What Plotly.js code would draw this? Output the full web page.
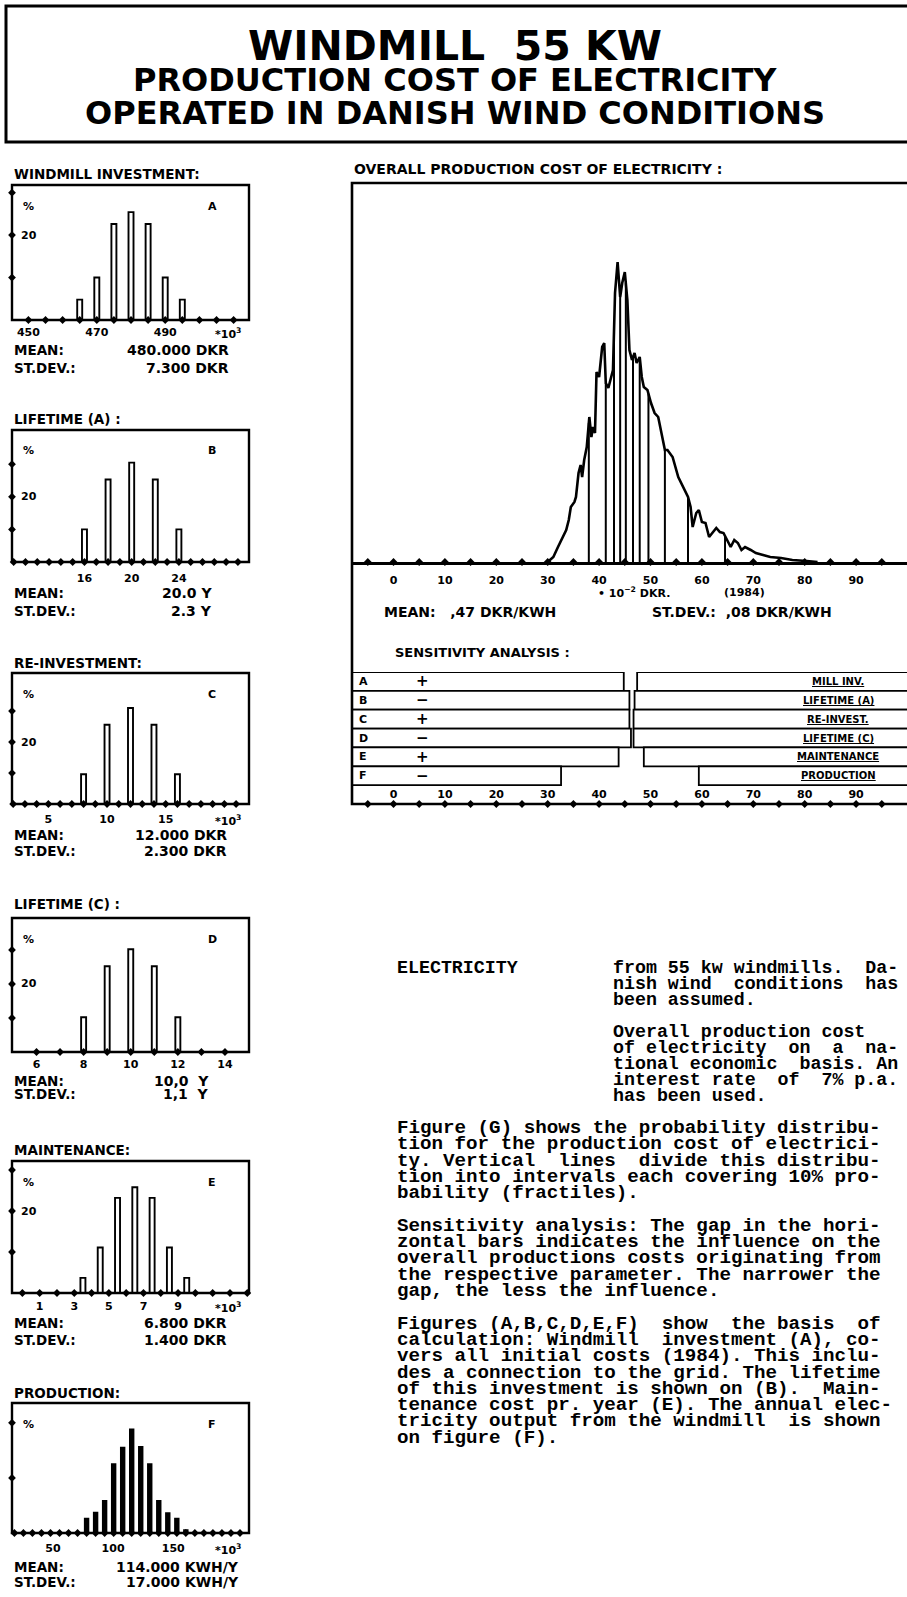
<!DOCTYPE html>
<html><head><meta charset="utf-8">
<script src="https://cdn.plot.ly/plotly-3.0.1.min.js"></script>
<style>html,body{margin:0;padding:0;background:#fff}#chart{width:907px;height:1597px}</style>
</head><body><div id="chart"></div>
<script>
// ================= DATA =================
const titleLines = ["WINDMILL  55 KW", "PRODUCTION COST OF ELECTRICITY", "OPERATED IN DANISH WIND CONDITIONS"];

const panelTitles = ["WINDMILL INVESTMENT:", "LIFETIME (A) :", "RE-INVESTMENT:", "LIFETIME (C) :", "MAINTENANCE:", "PRODUCTION:"];
const panelLetters = ["A", "B", "C", "D", "E", "F"];

const aX = [465, 470, 475, 480, 485, 490, 495];
const aY = [4.8, 10, 22.6, 25.4, 22.6, 10, 4.8];
const bX = [16, 18, 20, 22, 24];
const bY = [10, 25.3, 30.5, 25.3, 10];
const cX = [8, 10, 12, 14, 16];
const cY = [9.6, 25.6, 31, 25.6, 9.6];
const dX = [8, 9, 10, 11, 12];
const dY = [10.2, 25.2, 30.2, 25.2, 10.2];
const eX = [3.5, 4.5, 5.5, 6.5, 7.5, 8.5, 9.5];
const eY = [3.7, 11.1, 23.2, 25.8, 23.2, 11.1, 3.7];
const fX = [78, 85.5, 93, 100.5, 108, 115.5, 123, 130.5, 138, 145.5, 153, 160.5];
const fY = [2.6, 3.7, 5.8, 12.5, 15.5, 18.8, 15.6, 12.5, 5.8, 3.6, 2.6, 0.5];

const aTicks = [450, 470, 490];
const bTicks = [16, 20, 24];
const cTicks = [5, 10, 15];
const dTicks = [6, 8, 10, 12, 14];
const eTicks = [1, 3, 5, 7, 9];
const fTicks = [50, 100, 150];
const yLabelTick = 20;

const meanTexts = ["480.000 DKR", "20.0 Y", "12.000 DKR", "10,0  Y", "6.800 DKR", "114.000 KWH/Y"];
const sdTexts = ["7.300 DKR", "2.3 Y", "2.300 DKR", "1,1  Y", "1.400 DKR", "17.000 KWH/Y"];

// overall production cost distribution (x in 1e-2 DKR/kWh, relative height)
const histX = [30.0, 31.1, 32.0, 32.9, 33.6, 34.1, 34.5, 35.2, 35.5, 36.0, 36.4, 36.7, 37.1, 37.6, 38.1, 38.5, 38.8, 39.2, 39.5, 40.0, 40.6, 41.0, 41.3, 41.8, 42.2, 42.7, 43.1, 43.6, 44.1, 44.5, 45.0, 45.5, 45.9, 46.4, 46.9, 47.3, 47.9, 48.3, 48.7, 49.4, 50.1, 50.8, 51.5, 52.2, 52.8, 53.3, 54.3, 55.4, 56.4, 57.3, 57.8, 58.2, 58.9, 59.4, 60.0, 60.7, 61.4, 62.1, 62.8, 63.5, 64.2, 64.9, 65.6, 66.3, 67.0, 67.7, 68.4, 69.5, 70.5, 71.9, 73.3, 75.4, 77.6, 80.4, 82.5];
const histY = [0, 0.5, 1.5, 2.5, 3.2, 4.2, 5.5, 6.0, 6.5, 8.9, 9.7, 8.5, 10.2, 11.5, 14.5, 12.5, 13.5, 12.9, 19.0, 18.5, 21.5, 21.9, 17.9, 17.4, 18.2, 19.2, 26.9, 30.0, 26.5, 27.9, 29.0, 26.2, 21.2, 20.2, 20.9, 19.9, 20.5, 18.5, 17.5, 17.2, 15.9, 14.9, 14.5, 12.5, 11.2, 11.2, 10.5, 8.5, 7.5, 6.5, 5.5, 3.5, 4.9, 5.2, 4.0, 3.9, 2.5, 2.9, 3.4, 3.0, 2.9, 2.2, 1.5, 2.2, 1.9, 1.2, 1.5, 1.2, 0.9, 0.7, 0.5, 0.4, 0.2, 0.1, 0];
const fractiles = [38.0, 41.3, 42.9, 44.1, 45.2, 46.6, 47.9, 49.6, 52.8, 57.3, 64.5];
const histTicks = [0, 10, 20, 30, 40, 50, 60, 70, 80, 90];

const sensLetters = ["A", "B", "C", "D", "E", "F"];
const sensSigns = ["+", "\u2212", "+", "\u2212", "+", "\u2212"];
const sensNames = ["MILL INV.", "LIFETIME (A)", "RE-INVEST.", "LIFETIME (C)", "MAINTENANCE", "PRODUCTION"];
const sensLow = [44.8, 45.9, 45.9, 46.2, 43.8, 32.6];
const sensHigh = [47.4, 46.9, 46.7, 46.7, 48.7, 59.4];

const textRight1 = ["from 55 kw windmills.  Da-", "nish wind  conditions  has", "been assumed."];
const textRight2 = ["Overall production cost", "of electricity  on  a  na-", "tional economic  basis. An", "interest rate  of  7% p.a.", "has been used."];
const textLower = [
  "Figure (G) shows the probability distribu-",
  "tion for the production cost of electrici-",
  "ty. Vertical  lines  divide this distribu-",
  "tion into intervals each covering 10% pro-",
  "bability (fractiles).",
  "",
  "Sensitivity analysis: The gap in the hori-",
  "zontal bars indicates the influence on the",
  "overall productions costs originating from",
  "the respective parameter. The narrower the",
  "gap, the less the influence.",
  "",
  "Figures (A,B,C,D,E,F)  show  the basis  of",
  "calculation: Windmill  investment (A), co-",
  "vers all initial costs (1984). This inclu-",
  "des a connection to the grid. The lifetime",
  "of this investment is shown on (B).  Main-",
  "tenance cost pr. year (E). The annual elec-",
  "tricity output from the windmill  is shown",
  "on figure (F)."
];

// ================= LAYOUT HELPERS =================
const W = 907, H = 1597;
const px = v => v / W;
const py = v => 1 - v / H;
const SANS = "DejaVu Sans";
const MONO = "Liberation Mono";
const nb = s => s.replace(/ /g, "\u00A0");

function ann(text, x, y, o) {
  o = o || {};
  return {
    text: text, x: o.xref ? x : px(x), y: o.yref ? y : py(y),
    xref: o.xref || 'paper', yref: o.yref || 'paper', showarrow: false,
    xanchor: o.xa || 'left', yanchor: 'middle', borderpad: 0,
    font: {family: o.family || SANS, size: o.size || 13, color: '#000', weight: o.weight || 'bold'}
  };
}

const series = [[aX, aY, aTicks], [bX, bY, bTicks], [cX, cY, cTicks], [dX, dY, dTicks], [eX, eY, eTicks], [fX, fY, fTicks]];

const geom = [
  {top: 185, bot: 320, xr: [445.2, 514.5], ymax: 31.8, dots: [450, 5, 510], ydots: [10, 20, 30], ylab: true, labelY: 174, tickY: 333, meanY: 350, sdY: 368, valR: 230, barPx: 5, fill: '#fff', x10: true},
  {top: 430, bot: 562, xr: [9.86, 29.94], ymax: 40.5, dots: [10, 1, 29], ydots: [10, 20, 30], ylab: true, labelY: 419, tickY: 579, meanY: 593, sdY: 611, valR: 213, barPx: 5, fill: '#fff', x10: false},
  {top: 673, bot: 804, xr: [1.9, 22.1], ymax: 42.3, dots: [2, 1, 21], ydots: [10, 20, 30], ylab: true, labelY: 663, tickY: 820, meanY: 835, sdY: 851, valR: 228, barPx: 5, fill: '#fff', x10: true},
  {top: 918, bot: 1052, xr: [4.96, 15.02], ymax: 39.4, dots: [6, 1, 14], ydots: [10, 20, 30], ylab: true, labelY: 904, tickY: 1065, meanY: 1081, sdY: 1094, valR: 210, barPx: 5, fill: '#fff', x10: false},
  {top: 1161, bot: 1293, xr: [-0.6, 13.1], ymax: 32.2, dots: [0, 1, 13], ydots: [10, 20, 30], ylab: true, labelY: 1150, tickY: 1307, meanY: 1323, sdY: 1340, valR: 228, barPx: 5, fill: '#fff', x10: true},
  {top: 1403, bot: 1533, xr: [16, 213], ymax: 23.6, dots: [18, 7.5, 205.5], ydots: [10, 20], ylab: false, labelY: 1393, tickY: 1549, meanY: 1567, sdY: 1582, valR: 240, barPx: 3.5, fill: '#000', x10: true}
];
const PL = 12, PR = 249;

const traces = [];
const layout = {
  width: W, height: H, margin: {l: 0, r: 0, t: 0, b: 0}, autosize: false,
  paper_bgcolor: '#fff', plot_bgcolor: 'rgba(0,0,0,0)', showlegend: false,
  shapes: [], annotations: []
};

// title box
layout.shapes.push({type: 'rect', xref: 'paper', yref: 'paper', x0: px(6), x1: px(930), y0: py(6), y1: py(142), line: {color: '#000', width: 3}});
const titleY = [46, 80, 113];
const titleSize = [41, 32, 32];
titleLines.forEach((t, i) => layout.annotations.push(ann(nb(t), 455, titleY[i], {xa: 'center', size: titleSize[i]})));

// ---------- left panels ----------
geom.forEach((g, i) => {
  const xs = series[i][0], ys = series[i][1], tv = series[i][2];
  const xn = i === 0 ? 'x' : 'x' + (i + 1);
  const yn = i === 0 ? 'y' : 'y' + (i + 1);
  const xk = i === 0 ? 'xaxis' : 'xaxis' + (i + 1);
  const yk = i === 0 ? 'yaxis' : 'yaxis' + (i + 1);
  const pxPerUnit = (PR - PL) / (g.xr[1] - g.xr[0]);
  layout[xk] = {
    domain: [px(PL), px(PR)], range: g.xr, anchor: yn, showgrid: false, zeroline: false, showline: false,
    ticks: '', tickvals: tv, ticklabelstandoff: Math.max(0, g.tickY - g.bot - 9), ticklabeloverflow: 'allow',
    tickfont: {family: SANS, size: 11, color: '#000', weight: 'bold'}, fixedrange: true
  };
  layout[yk] = {
    domain: [py(g.bot), py(g.top)], range: [0, g.ymax], anchor: xn, showgrid: false, zeroline: false, showline: false,
    showticklabels: false, ticks: '', fixedrange: true
  };
  traces.push({
    type: 'bar', x: xs, y: ys, width: g.barPx / pxPerUnit, xaxis: xn, yaxis: yn,
    marker: {color: g.fill, line: {color: '#000', width: 1.9}}, hoverinfo: 'skip'
  });
  const dx = [], dy = [];
  for (let v = g.dots[0]; v <= g.dots[2] + 1e-9; v += g.dots[1]) { dx.push(v); dy.push(0); }
  g.ydots.forEach(v => { dx.push(g.xr[0]); dy.push(v); });
  traces.push({type: 'scatter', mode: 'markers', x: dx, y: dy, xaxis: xn, yaxis: yn, cliponaxis: false,
    marker: {symbol: 'diamond', size: 6, color: '#000'}, hoverinfo: 'skip'});
  layout.shapes.push({type: 'rect', xref: 'paper', yref: 'paper', x0: px(PL), x1: px(PR), y0: py(g.bot), y1: py(g.top), line: {color: '#000', width: 2.4}});
  if (g.ylab) layout.annotations.push(ann(String(yLabelTick), 20, yLabelTick, {yref: yn, size: 11}));
  layout.annotations.push(ann(panelTitles[i], 13, g.labelY, {size: 13.5}));
  layout.annotations.push(ann('%', 22, g.top + 21, {size: 11}));
  layout.annotations.push(ann(panelLetters[i], 212, g.top + 21, {xa: 'center', size: 11}));
  if (g.x10) layout.annotations.push(ann('*10<sup>3</sup>', 214, g.tickY, {size: 11}));
  layout.annotations.push(ann('MEAN:', 13, g.meanY, {size: 13.5}));
  layout.annotations.push(ann('ST.DEV.:', 13, g.sdY, {size: 13.5}));
  layout.annotations.push(ann(nb(meanTexts[i]), g.valR, g.meanY, {xa: 'right', size: 14}));
  layout.annotations.push(ann(nb(sdTexts[i]), g.valR, g.sdY, {xa: 'right', size: 14}));
});

// ---------- overall production cost (G) ----------
const GL = 352, GT = 183, GB = 562, GBOT = 804;
const zeroPx = 393.5, ppu = 5.14;
const gRange = [(GL - zeroPx) / ppu, (W - zeroPx) / ppu];
layout.xaxis7 = {
  domain: [px(GL), 1], range: gRange, anchor: 'y7', showgrid: false, zeroline: false,
  showline: true, linecolor: '#000', linewidth: 2.6, ticks: '', tickvals: histTicks, ticklabelstandoff: 6,
  tickfont: {family: SANS, size: 11, color: '#000', weight: 'bold'}, fixedrange: true
};
layout.yaxis7 = {domain: [py(GB), py(GT)], range: [0, (GB - GT) / 10], anchor: 'x7', visible: false, fixedrange: true};
traces.push({type: 'scatter', mode: 'lines', x: histX, y: histY, xaxis: 'x7', yaxis: 'y7',
  line: {color: '#000', width: 2.6}, hoverinfo: 'skip'});
function interp(xs, ys, v) {
  for (let i = 0; i < xs.length - 1; i++) {
    if (v >= xs[i] && v <= xs[i + 1]) return ys[i] + (ys[i + 1] - ys[i]) * (v - xs[i]) / (xs[i + 1] - xs[i]);
  }
  return 0;
}
const fx = [], fy = [];
fractiles.forEach(f => { fx.push(f, f, null); fy.push(0, interp(histX, histY, f), null); });
traces.push({type: 'scatter', mode: 'lines', x: fx, y: fy, xaxis: 'x7', yaxis: 'y7',
  line: {color: '#000', width: 2}, hoverinfo: 'skip'});
const gdx = [], gdy = [];
for (let v = -5; v <= 95; v += 5) { gdx.push(v); gdy.push(0); }
traces.push({type: 'scatter', mode: 'markers', x: gdx, y: gdy, xaxis: 'x7', yaxis: 'y7', cliponaxis: false,
  marker: {symbol: 'diamond', size: 6, color: '#000'}, hoverinfo: 'skip'});

layout.shapes.push({type: 'rect', xref: 'paper', yref: 'paper', x0: px(GL), x1: px(930), y0: py(GBOT), y1: py(GT), line: {color: '#000', width: 2.6}});
layout.annotations.push(ann('OVERALL PRODUCTION COST OF ELECTRICITY :', 353, 169, {size: 14}));
layout.annotations.push(ann('\u2022 10<sup>\u22122</sup> DKR.', 597, 593, {size: 11}));
layout.annotations.push(ann('(1984)', 723, 593, {size: 11}));
layout.annotations.push(ann(nb('MEAN:   ,47 DKR/KWH'), 383, 612, {size: 14}));
layout.annotations.push(ann(nb('ST.DEV.:  ,08 DKR/KWH'), 651, 612, {size: 14}));
layout.annotations.push(ann('SENSITIVITY ANALYSIS :', 394, 653, {size: 13}));

// ---------- sensitivity analysis ----------
const rowPos = sensLetters.map((_, i) => sensLetters.length - i);
layout.xaxis8 = {
  domain: [px(GL), 1], range: gRange, anchor: 'free', position: py(785), showgrid: false, zeroline: false,
  showline: false, ticks: '', tickvals: histTicks, ticklabelstandoff: 1,
  tickfont: {family: SANS, size: 11, color: '#000', weight: 'bold'}, fixedrange: true
};
layout.yaxis8 = {domain: [py(GBOT), py(672)], range: [-0.5, 6.5], anchor: 'x8', visible: false, fixedrange: true};
traces.push({type: 'bar', orientation: 'h', y: rowPos, base: gRange[0], x: sensLow.map(v => v - gRange[0]), width: 1,
  xaxis: 'x8', yaxis: 'y8', marker: {color: '#fff', line: {color: '#000', width: 1.8}}, hoverinfo: 'skip'});
traces.push({type: 'bar', orientation: 'h', y: rowPos, base: sensHigh, x: sensHigh.map(v => gRange[1] + 20 - v), width: 1,
  xaxis: 'x8', yaxis: 'y8', marker: {color: '#fff', line: {color: '#000', width: 1.8}}, hoverinfo: 'skip'});
traces.push({type: 'scatter', mode: 'markers', x: gdx, y: gdx.map(() => -0.5), xaxis: 'x8', yaxis: 'y8', cliponaxis: false,
  marker: {symbol: 'diamond', size: 6, color: '#000'}, hoverinfo: 'skip'});
layout.barmode = 'overlay';
sensLetters.forEach((l, i) => {
  layout.annotations.push(ann(l, 358, rowPos[i], {yref: 'y8', size: 11}));
  layout.annotations.push(ann(sensSigns[i], 422, rowPos[i], {yref: 'y8', xa: 'center', size: 15}));
  layout.annotations.push(ann('<span style="text-decoration:underline">' + nb(sensNames[i]) + '</span>', 838, rowPos[i], {yref: 'y8', xa: 'center', size: 10}));
});

// ---------- typewriter text ----------
const TSR = 18.3, TSL = 19.2;
layout.annotations.push(ann('ELECTRICITY', 396, 968, {family: MONO, size: TSR}));
textRight1.forEach((t, i) => layout.annotations.push(ann(nb(t), 612, 968 + 16 * i, {family: MONO, size: TSR})));
textRight2.forEach((t, i) => layout.annotations.push(ann(nb(t), 612, 1032 + 16 * i, {family: MONO, size: TSR})));
textLower.forEach((t, i) => { if (t) layout.annotations.push(ann(nb(t), 396, 1128 + 16.3 * i, {family: MONO, size: TSL})); });

Plotly.newPlot('chart', traces, layout, {displayModeBar: false, staticPlot: true});
</script>
</body></html>
